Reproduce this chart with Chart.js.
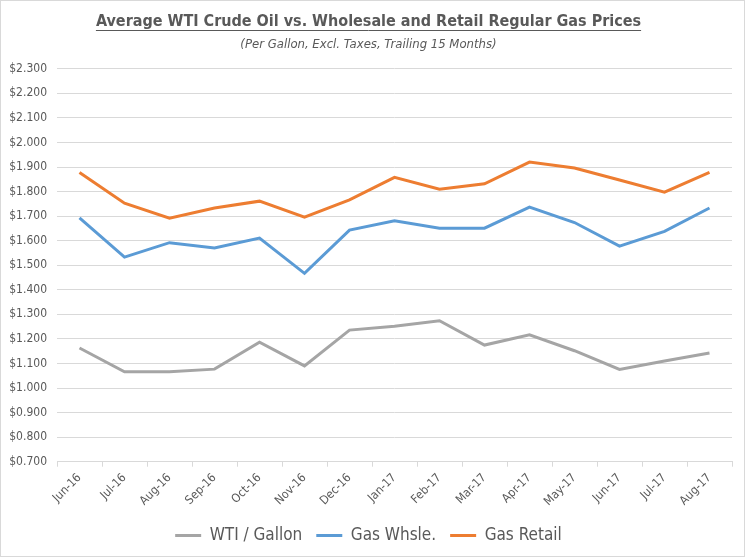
<!DOCTYPE html>
<html>
<head>
<meta charset="utf-8">
<script src="https://cdn.jsdelivr.net/npm/chart.js@4/dist/chart.umd.min.js"></script>
<style>
    html, body { margin: 0; padding: 0; background: #fff; }
    #wrap { width: 743px; height: 555px; border: 1px solid #d9d9d9; position: relative; }
    canvas { display: block; }
</style>
</head>
<body>
<div id="wrap"><canvas id="gasChart" width="743" height="555"></canvas></div>
<script>
const months = ['Jun-16', 'Jul-16', 'Aug-16', 'Sep-16', 'Oct-16', 'Nov-16', 'Dec-16', 'Jan-17',
    'Feb-17', 'Mar-17', 'Apr-17', 'May-17', 'Jun-17', 'Jul-17', 'Aug-17'];
const wtiPerGallon = [1.163, 1.066, 1.066, 1.077, 1.187, 1.090, 1.236, 1.252, 1.274, 1.175, 1.217, 1.152, 1.076, 1.110, 1.143];
const gasWholesale = [1.693, 1.533, 1.592, 1.570, 1.611, 1.467, 1.643, 1.681, 1.651, 1.651, 1.737, 1.674, 1.578, 1.638, 1.733];
const gasRetail = [1.878, 1.753, 1.692, 1.733, 1.761, 1.696, 1.766, 1.858, 1.810, 1.832, 1.920, 1.896, 1.847, 1.798, 1.878];
const yMin = 0.7;
const yMax = 2.3;
const yStep = 0.1;

(function() {
    'use strict';

    const font = "'Liberation Sans Narrow', 'DejaVu Sans Condensed', sans-serif";
    const textColor = '#595959';
    const gridColor = '#d9d9d9';

    // Excel-style underline under the main title
    const underlineTitle = {
        id: 'underlineTitle',
        afterDraw(chart) {
            const title = chart.titleBlock;
            if (!title) {
                return;
            }
            const ctx = chart.ctx;
            const opts = chart.options.plugins.title;
            ctx.save();
            ctx.font = 'bold ' + opts.font.size + 'px ' + font;
            const w = ctx.measureText(opts.text).width;
            const cx = (title.left + title.right) / 2;
            const y = title.top + opts.padding.top + opts.font.size + 2;
            ctx.strokeStyle = textColor;
            ctx.lineWidth = 1;
            ctx.beginPath();
            ctx.moveTo(cx - w / 2, y + 0.5);
            ctx.lineTo(cx + w / 2, y + 0.5);
            ctx.stroke();
            ctx.restore();
        }
    };

    function series(label, data, color) {
        return {
            label: label,
            data: data,
            borderColor: color,
            backgroundColor: color,
            borderWidth: 3,
            pointRadius: 0,
            pointHoverRadius: 0,
            tension: 0,
            fill: false
        };
    }

    new Chart(document.getElementById('gasChart'), {
        type: 'line',
        data: {
            labels: months,
            datasets: [
                series('WTI / Gallon', wtiPerGallon, '#a5a5a5'),
                series('Gas Whsle.', gasWholesale, '#5b9bd5'),
                series('Gas Retail', gasRetail, '#ed7d31')
            ]
        },
        options: {
            responsive: false,
            animation: false,
            layout: { padding: { left: 4, right: 12, top: 0, bottom: 2 } },
            plugins: {
                title: {
                    display: true,
                    text: 'Average WTI Crude Oil vs. Wholesale and Retail Regular Gas Prices',
                    color: textColor,
                    font: { family: font, size: 16, weight: 'bold' },
                    padding: { top: 11, bottom: 4 }
                },
                subtitle: {
                    display: true,
                    text: '(Per Gallon, Excl. Taxes, Trailing 15 Months)',
                    color: textColor,
                    font: { family: font, size: 13, style: 'italic' },
                    padding: { top: 2, bottom: 16 }
                },
                legend: {
                    position: 'bottom',
                    labels: {
                        color: textColor,
                        font: { family: font, size: 17 },
                        usePointStyle: true,
                        pointStyle: 'line',
                        pointStyleWidth: 26,
                        boxHeight: 4,
                        padding: 14
                    }
                },
                tooltip: { enabled: false }
            },
            scales: {
                x: {
                    offset: true,
                    grid: {
                        offset: true,
                        drawOnChartArea: false,
                        drawTicks: true,
                        tickLength: 5,
                        color: gridColor
                    },
                    border: { color: gridColor },
                    ticks: {
                        color: textColor,
                        font: { family: font, size: 12 },
                        minRotation: 45,
                        maxRotation: 45,
                        autoSkip: false,
                        padding: 4
                    }
                },
                y: {
                    min: yMin,
                    max: yMax,
                    grid: { color: gridColor, drawTicks: false },
                    border: { display: false },
                    ticks: {
                        stepSize: yStep,
                        color: textColor,
                        font: { family: font, size: 12 },
                        padding: 10,
                        callback: (value) => '$' + Number(value).toFixed(3)
                    },
                    afterFit(scale) {
                        scale.width = 52;
                    }
                }
            }
        },
        plugins: [underlineTitle]
    });
})();
</script>
</body>
</html>
